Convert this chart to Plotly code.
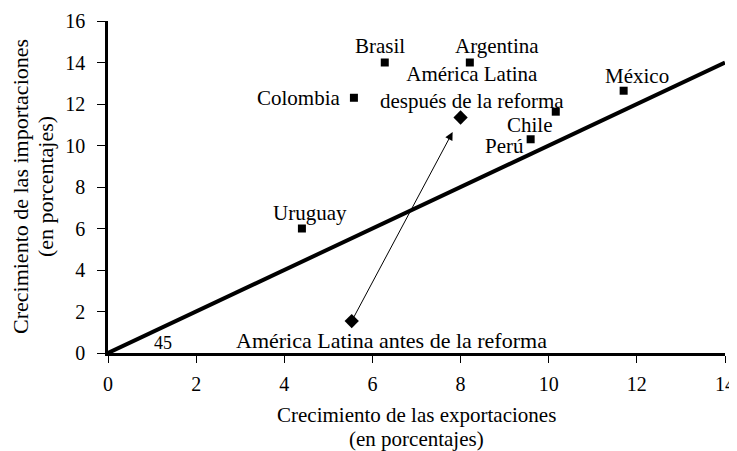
import plotly.graph_objects as go

countries = ["Brasil", "Argentina", "Colombia", "México", "Chile", "Perú", "Uruguay"]
exports = [6.28, 8.21, 5.58, 11.7, 10.16, 9.59, 4.4]
imports = [14.0, 14.0, 12.3, 12.64, 11.63, 10.3, 6.0]

la_labels = ["América Latina antes de la reforma", "América Latina<br>después de la reforma"]
la_exports = [5.53, 8.0]
la_imports = [1.54, 11.35]

line_x = [0, 14]
line_y = [0, 14]

x_ticks = [0, 2, 4, 6, 8, 10, 12, 14]
y_ticks = [0, 2, 4, 6, 8, 10, 12, 14, 16]

x_title = ["Crecimiento de las exportaciones", "(en porcentajes)"]
y_title = ["Crecimiento de las importaciones", "(en porcentajes)"]

FONT = "Liberation Serif"
TXT = 21

fig = go.Figure()
fig.add_trace(go.Scatter(x=line_x, y=line_y, mode="lines",
                         line=dict(color="black", width=4), cliponaxis=False,
                         hoverinfo="skip"))
fig.add_trace(go.Scatter(x=exports, y=imports, mode="markers",
                         marker=dict(symbol="square", size=8, color="black"),
                         cliponaxis=False))
fig.add_trace(go.Scatter(x=la_exports, y=la_imports, mode="markers",
                         marker=dict(symbol="diamond", size=11, color="black"),
                         cliponaxis=False))

# label offsets (pixels): xshift, yshift, xanchor
offsets = {
    "Brasil": (-5, 17, "center"),
    "Argentina": (27, 17, "center"),
    "Colombia": (-11, 0, "right"),
    "México": (13, 15, "center"),
    "Chile": (-1, -13, "right"),
    "Perú": (-5, -7, "right"),
    "Uruguay": (8, 16, "center"),
}
ann = []
for c, x, y in zip(countries, exports, imports):
    dx, dy, xa = offsets[c]
    ann.append(dict(x=x, y=y, text=c, showarrow=False, xshift=dx, yshift=dy,
                    xanchor=xa, yanchor="middle",
                    font=dict(family=FONT, size=TXT, color="black")))

ann.append(dict(x=la_exports[0], y=la_imports[0], text=la_labels[0], showarrow=False,
                xshift=40, yshift=-19, yanchor="middle",
                font=dict(family=FONT, size=22, color="black")))
ann.append(dict(x=la_exports[1], y=la_imports[1], text=la_labels[1], showarrow=False,
                xshift=11, yshift=30, yanchor="middle",
                font=dict(family=FONT, size=TXT, color="black")))
# arrow from before to after
ann.append(dict(x=7.82, y=10.65, ax=la_exports[0], ay=la_imports[0],
                xref="x", yref="y", axref="x", ayref="y", text="",
                showarrow=True, arrowhead=2, arrowsize=1.6, arrowwidth=1,
                arrowcolor="black"))
ann.append(dict(x=1.25, y=0.5, text="45", showarrow=False, yanchor="middle",
                font=dict(family=FONT, size=18, color="black")))
# axis titles (one annotation per line)
for txt, dy in zip(x_title, [-62, -86]):
    ann.append(dict(x=0.5, y=0, xref="paper", yref="paper", text=txt, showarrow=False,
                    xanchor="center", yanchor="middle", yshift=dy,
                    font=dict(family=FONT, size=21, color="black")))
for txt, dx in zip(y_title, [-88, -63]):
    ann.append(dict(x=0, y=0.5, xref="paper", yref="paper", text=txt, showarrow=False,
                    xanchor="center", yanchor="middle", xshift=dx, textangle=-90,
                    font=dict(family=FONT, size=22, color="black")))

fig.update_layout(
    width=729, height=443,
    margin=dict(l=100, r=12, t=13, b=98, autoexpand=False),
    plot_bgcolor="white", paper_bgcolor="white",
    showlegend=False,
    annotations=ann,
    font=dict(family=FONT, size=TXT, color="black"),
)
fig.update_xaxes(range=[0, 14], tickvals=x_ticks, showgrid=False, zeroline=False,
                 showline=True, linecolor="black", linewidth=2.5, automargin=False,
                 ticks="outside", ticklen=7, tickwidth=1, tickcolor="black",
                 ticklabelstandoff=4, ticklabeloverflow="allow",
                 tickfont=dict(family=FONT, size=20))
fig.update_yaxes(range=[0, 16], tickvals=y_ticks, showgrid=False, zeroline=False,
                 showline=True, linecolor="black", linewidth=2.5, automargin=False,
                 ticks="outside", ticklen=8, tickwidth=1, tickcolor="black",
                 ticklabelstandoff=8,
                 tickfont=dict(family=FONT, size=20))

fig.write_html("out.html", config={"responsive": False})
